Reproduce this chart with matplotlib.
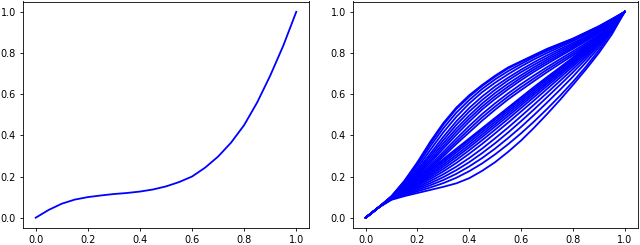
import matplotlib
matplotlib.use('Agg')
import matplotlib.pyplot as plt

x_vals = [0.0, 0.05, 0.1, 0.15, 0.2, 0.25, 0.3, 0.35, 0.4, 0.45, 0.5,
          0.55, 0.6, 0.65, 0.7, 0.75, 0.8, 0.85, 0.9, 0.95, 1.0]

# left panel: single curve
left_curve = [0, .038, .068, .088, .10, .108, .115, .12, .127, .137, .152,
              .173, .20, .243, .297, .365, .45, .56, .69, .835, 1.0]

# right panel: upper bundle of curves
upper_curves = [
    [0, .05, .105, .18, .27, .37, .46, .535, .595, .645, .69, .73, .76, .79, .82, .845, .87, .90, .93, .965, 1],
    [0, .05, .104, .177, .265, .362, .452, .528, .588, .64, .685, .725, .757, .787, .817, .843, .868, .898, .928, .963, 1],
    [0, .05, .103, .172, .255, .348, .435, .51, .572, .626, .672, .712, .747, .78, .81, .837, .863, .893, .924, .961, 1],
    [0, .05, .102, .166, .243, .33, .415, .49, .555, .61, .656, .697, .735, .769, .8, .829, .857, .888, .92, .959, 1],
    [0, .05, .101, .16, .232, .312, .393, .468, .533, .589, .638, .68, .719, .755, .788, .819, .848, .88, .914, .956, 1],
    [0, .05, .10, .155, .223, .30, .377, .451, .516, .572, .622, .667, .707, .743, .777, .81, .841, .874, .91, .953, 1],
    [0, .05, .10, .151, .216, .288, .362, .433, .497, .555, .606, .651, .692, .731, .767, .801, .834, .869, .906, .951, 1],
    [0, .05, .10, .148, .21, .277, .348, .418, .482, .54, .591, .637, .68, .72, .757, .792, .827, .863, .902, .949, 1],
    [0, .05, .099, .145, .205, .268, .336, .403, .467, .526, .577, .624, .668, .709, .747, .784, .82, .857, .897, .946, 1],
    [0, .05, .099, .142, .198, .257, .32, .384, .446, .504, .556, .604, .649, .691, .731, .77, .808, .847, .889, .942, 1],
    [0, .05, .098, .14, .192, .248, .308, .37, .43, .488, .54, .589, .634, .677, .719, .759, .798, .839, .883, .939, 1],
    [0, .05, .098, .137, .187, .24, .298, .358, .415, .472, .525, .575, .62, .664, .707, .748, .789, .832, .878, .936, 1],
]

# right panel: lower bundle of curves
lower_curves = [
    [0, .05, .098, .14, .185, .235, .285, .335, .385, .435, .485, .535, .585, .635, .683, .73, .778, .828, .88, .938, 1],
    [0, .05, .097, .137, .18, .228, .277, .327, .377, .427, .477, .527, .577, .627, .676, .724, .773, .823, .876, .936, 1],
    [0, .05, .097, .135, .175, .22, .268, .317, .366, .416, .466, .517, .567, .618, .668, .717, .767, .818, .872, .934, 1],
    [0, .05, .096, .132, .17, .212, .258, .305, .354, .404, .455, .506, .557, .608, .659, .709, .76, .812, .868, .932, 1],
    [0, .05, .096, .13, .165, .205, .248, .294, .342, .392, .443, .494, .546, .598, .65, .701, .753, .806, .864, .93, 1],
    [0, .05, .095, .127, .16, .197, .237, .281, .328, .377, .428, .48, .533, .586, .639, .692, .745, .80, .859, .928, 1],
    [0, .05, .094, .124, .155, .188, .225, .266, .311, .359, .41, .462, .516, .57, .625, .68, .735, .792, .853, .925, 1],
    [0, .05, .093, .12, .148, .178, .211, .248, .29, .336, .386, .438, .493, .549, .606, .664, .722, .782, .846, .921, 1],
    [0, .05, .092, .117, .142, .168, .197, .231, .27, .314, .362, .414, .469, .526, .585, .645, .706, .77, .838, .917, 1],
    [0, .05, .09, .113, .135, .158, .183, .213, .249, .29, .336, .387, .441, .499, .559, .621, .685, .754, .827, .911, 1],
    [0, .05, .089, .109, .128, .147, .168, .194, .226, .264, .308, .357, .41, .467, .528, .592, .66, .733, .813, .903, 1],
    [0, .05, .087, .105, .12, .135, .15, .167, .192, .228, .27, .32, .375, .437, .503, .572, .645, .72, .80, .89, 1],
]

plt.rcParams['font.size'] = 7
plt.rcParams['axes.linewidth'] = 0.6
plt.rcParams['xtick.major.size'] = 2.4
plt.rcParams['ytick.major.size'] = 2.4
plt.rcParams['xtick.major.width'] = 0.6
plt.rcParams['ytick.major.width'] = 0.6
plt.rcParams['xtick.major.pad'] = 2.4
plt.rcParams['ytick.major.pad'] = 2.4

fig = plt.figure(figsize=(6.4, 2.45), dpi=100)
ax1 = fig.add_axes([22.7 / 640, 17 / 245, 286.6 / 640, 226.5 / 245])
ax2 = fig.add_axes([352.7 / 640, 17 / 245, 285 / 640, 226.5 / 245])

ax1.plot(x_vals, left_curve, 'b', lw=1.3)

for curve in upper_curves + lower_curves:
    ax2.plot(x_vals, curve, 'b', lw=1.3)

for ax in (ax1, ax2):
    ax.set_xticks([0.0, 0.2, 0.4, 0.6, 0.8, 1.0])
    ax.set_yticks([0.0, 0.2, 0.4, 0.6, 0.8, 1.0])

plt.savefig('out.png', dpi=100)
